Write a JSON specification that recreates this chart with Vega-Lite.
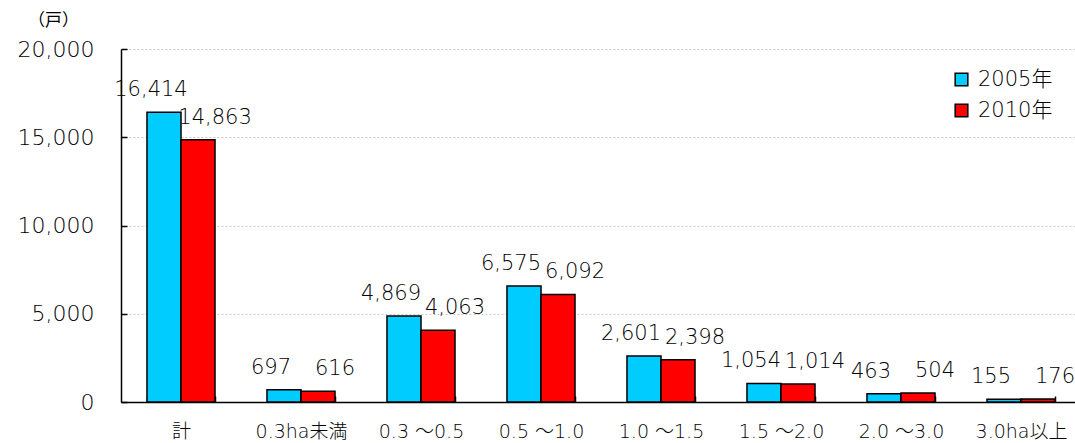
{
  "$schema": "https://vega.github.io/schema/vega-lite/v6.json",
  "width": 960,
  "height": 353,
  "autosize": {"type": "none"},
  "padding": {"left": 121, "top": 49, "right": 0, "bottom": 41},
  "background": "white",
  "config": {
    "view": {"stroke": null},
    "font": "DejaVu Sans, Noto Sans CJK JP",
    "axis": {"labelFont": "DejaVu Sans, Noto Sans CJK JP", "titleFont": "Noto Sans CJK JP"}
  },
  "data": {
    "values": [
      {"cat": "計", "year": "2005年", "v": 16414},
      {"cat": "計", "year": "2010年", "v": 14863},
      {"cat": "0.3ha未満", "year": "2005年", "v": 697},
      {"cat": "0.3ha未満", "year": "2010年", "v": 616},
      {"cat": "0.3 ～0.5", "year": "2005年", "v": 4869},
      {"cat": "0.3 ～0.5", "year": "2010年", "v": 4063},
      {"cat": "0.5 ～1.0", "year": "2005年", "v": 6575},
      {"cat": "0.5 ～1.0", "year": "2010年", "v": 6092},
      {"cat": "1.0 ～1.5", "year": "2005年", "v": 2601},
      {"cat": "1.0 ～1.5", "year": "2010年", "v": 2398},
      {"cat": "1.5 ～2.0", "year": "2005年", "v": 1054},
      {"cat": "1.5 ～2.0", "year": "2010年", "v": 1014},
      {"cat": "2.0 ～3.0", "year": "2005年", "v": 463},
      {"cat": "2.0 ～3.0", "year": "2010年", "v": 504},
      {"cat": "3.0ha以上", "year": "2005年", "v": 155},
      {"cat": "3.0ha以上", "year": "2010年", "v": 176}
    ]
  },
  "encoding": {
    "x": {
      "field": "cat", "type": "nominal", "sort": null,
      "scale": {"paddingInner": 0.433, "paddingOuter": 0.2165},
      "axis": {
        "title": null, "labelAngle": 0, "labelFontSize": 19, "labelFontWeight": 300, "labelColor": "#000",
        "domainColor": "#000", "domainWidth": 1.5, "tickColor": "#000", "tickWidth": 1.5,
        "tickSize": -6, "tickBand": "extent", "labelPadding": 26
      }
    },
    "xOffset": {"field": "year", "type": "nominal", "scale": {"paddingInner": 0, "paddingOuter": 0}},
    "y": {
      "field": "v", "type": "quantitative",
      "scale": {"domain": [0, 20000]},
      "axis": {
        "values": [0, 5000, 10000, 15000, 20000], "format": ",d",
        "labelFontSize": 22, "labelFontWeight": 300, "labelColor": "#000", "labelPadding": 33,
        "domainColor": "#000", "domainWidth": 1.5, "tickColor": "#000", "tickWidth": 1.5, "tickSize": -6,
        "grid": true, "gridColor": "#c8c8c8", "gridDash": [2, 2], "gridWidth": 1,
        "title": "（戸）", "titleAngle": 0, "titleFontSize": 17, "titleFontWeight": "normal",
        "titleX": -68, "titleY": -29, "titleAlign": "center", "titleBaseline": "middle", "titleColor": "#000"
      }
    }
  },
  "layer": [
    {
      "mark": {"type": "bar", "stroke": "#000", "strokeWidth": 1.5},
      "encoding": {
        "color": {
          "field": "year", "type": "nominal",
          "scale": {"domain": ["2005年", "2010年"], "range": ["#00CCFF", "#FF0000"]},
          "legend": {
            "title": null, "orient": "none", "legendX": 830, "legendY": 20,
            "symbolType": "square", "symbolSize": 160, "symbolStrokeColor": "#000", "symbolStrokeWidth": 1.5,
            "symbolOpacity": 1, "labelFontSize": 21, "labelFontWeight": 300, "labelColor": "#000", "rowPadding": 9, "labelOffset": 6
          }
        }
      }
    },
    {
      "transform": [{"filter": "datum.year === '2005年'"}],
      "mark": {"type": "text", "baseline": "bottom", "dy": -12, "dx": -13, "fontSize": 21, "fontWeight": 300, "color": "#000"},
      "encoding": {"text": {"field": "v", "type": "quantitative", "format": ",d"}}
    },
    {
      "transform": [{"filter": "datum.year === '2010年'"}],
      "mark": {"type": "text", "baseline": "bottom", "dy": -12, "dx": 17, "fontSize": 21, "fontWeight": 300, "color": "#000"},
      "encoding": {"text": {"field": "v", "type": "quantitative", "format": ",d"}}
    }
  ]
}
